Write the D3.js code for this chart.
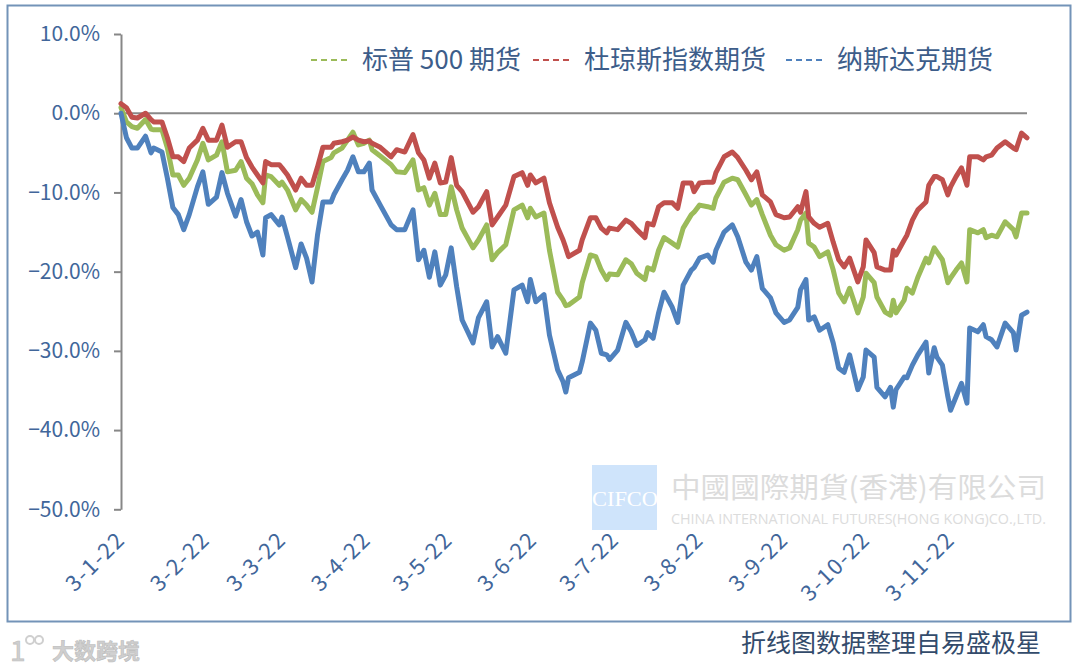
<!DOCTYPE html>
<html>
<head>
<meta charset="utf-8">
<script src="https://cdn.jsdelivr.net/npm/d3@7"></script>
<style>
  body { margin: 0; background: #fff; }
  svg { display: block; }
</style>
</head>
<body>
<div id="chart"></div>
<script>
var width = 1080, height = 669;

// dates of 2022 (month-day), shared by the three series
var dates = [
  "01-03","01-05","01-07","01-09","01-12","01-14","01-15","01-18","01-20","01-22","01-24","01-26","01-28","01-31",
  "02-02","02-04","02-07","02-09","02-11","02-14","02-16","02-18","02-20","02-22","02-24","02-25","02-27",
  "03-02","03-03","03-05","03-08","03-10","03-12","03-14","03-16","03-18","03-21","03-22","03-25","03-27","03-29","03-31",
  "04-02","04-04","04-05","04-08","04-12","04-14","04-17","04-20","04-22","04-24","04-26","04-28","04-30",
  "05-02","05-04","05-06","05-08","05-12","05-14","05-17","05-19","05-21","05-24","05-27","05-30",
  "06-01","06-02","06-04","06-07","06-09","06-12","06-14","06-15","06-16","06-20","06-21","06-24","06-26","06-28","06-30",
  "07-01","07-04","07-07","07-09","07-11","07-14","07-15","07-17","07-19","07-21","07-24","07-26","07-28","07-31",
  "08-01","08-03","08-06","08-08","08-09","08-12","08-15","08-17","08-20","08-22","08-24","08-26","08-29","08-31",
  "09-03","09-05","09-08","09-09","09-11","09-12","09-14","09-16","09-19","09-21","09-23","09-25","09-27","09-30",
  "10-02","10-03","10-06","10-07","10-10","10-12","10-13","10-14","10-17","10-18","10-20","10-22","10-25","10-26","10-28","10-29","10-31",
  "11-02","11-03","11-05","11-07","11-09","11-10","11-13","11-15","11-16","11-18","11-20","11-23","11-26","11-27","11-29",
  "12-01"
];

// 标普 500 期货 (%)
var spx = [
  0.7,-1.1,-1.7,-1.9,-0.8,-2.0,-2.1,-2.1,-4.4,-7.8,-7.8,-9.1,-8.2,-5.9,-3.8,-5.9,-5.3,-3.6,-7.4,-7.2,
  -6.1,-8.2,-8.9,-10.3,-11.3,-7.8,-8.0,-9.1,-8.7,-9.7,-12.2,-10.9,-11.6,-12.5,-9.4,-6.1,-5.6,-5.0,-4.4,
  -3.4,-2.4,-4.0,-3.8,-3.4,-4.6,-5.4,-6.5,-7.4,-7.5,-5.9,-9.7,-9.4,-11.6,-10.1,-12.8,-12.8,-9.3,-12.2,-14.5,
  -17.0,-16.0,-14.1,-18.5,-17.6,-16.6,-12.2,-11.6,-13.2,-12.0,-13.1,-12.6,-17.3,-22.6,-23.6,-24.3,
  -24.2,-23.2,-21.4,-17.9,-18.1,-19.8,-21.0,-20.3,-20.4,-18.5,-19.0,-20.2,-21.0,-19.5,-19.8,-17.3,-15.7,-16.4,-16.9,-14.5,
  -12.8,-12.5,-11.6,-11.8,-12.0,-10.7,-8.7,-8.2,-8.4,-10.3,-11.6,-10.9,-12.8,-15.4,-16.6,-17.3,-17.0,
  -14.7,-13.5,-12.6,-16.4,-16.9,-18.1,-17.5,-19.8,-22.7,-23.8,-22.1,-25.2,-23.2,-20.2,-21.4,-23.2,-25.1,-25.5,-23.6,-25.2,
  -23.6,-22.1,-22.7,-20.7,-18.3,-18.9,-17.0,-17.5,-18.5,-21.4,-20.8,-19.8,-18.9,-21.3,-14.7,-15.1,-14.7,-15.7,-15.4,-15.6,
  -13.7,-14.7,-15.6,-12.6,-12.6
];

// 杜琼斯指数期货 (%)
var dji = [
  1.2,0.7,-0.5,-0.6,0.0,-0.8,-1.1,-1.1,-3.1,-5.5,-5.5,-6.1,-4.4,-3.4,-1.9,-3.4,-3.4,-1.5,-4.3,-3.6,
  -3.6,-5.6,-6.8,-7.8,-8.8,-6.1,-6.5,-6.5,-6.9,-7.8,-9.7,-8.2,-9.1,-9.1,-6.8,-4.3,-4.3,-3.8,-3.6,
  -3.4,-3.0,-3.4,-3.6,-3.5,-3.8,-4.3,-5.5,-4.6,-4.9,-2.7,-5.0,-5.9,-8.2,-6.3,-8.8,-8.7,-5.6,-9.1,-9.9,
  -12.5,-11.8,-9.9,-14.1,-13.1,-11.6,-8.0,-7.5,-9.1,-7.8,-8.8,-8.2,-11.3,-14.4,-16.0,-17.0,
  -18.1,-17.3,-16.0,-13.2,-13.2,-14.5,-15.1,-14.5,-14.7,-13.5,-13.9,-14.7,-15.7,-13.9,-14.1,-11.8,-11.3,-11.3,-12.0,-8.8,
  -8.8,-9.9,-8.8,-8.7,-8.7,-7.5,-5.5,-4.9,-5.6,-7.2,-8.4,-7.4,-10.3,-11.2,-12.8,-13.2,-13.1,
  -11.8,-12.5,-9.9,-13.1,-13.9,-14.4,-13.9,-16.3,-18.5,-19.4,-18.3,-21.3,-19.4,-16.0,-17.6,-19.4,-19.8,-19.8,-17.3,-17.9,
  -16.0,-15.4,-13.5,-12.2,-11.2,-9.1,-8.0,-8.0,-8.4,-10.3,-9.3,-8.0,-6.9,-9.1,-5.5,-5.5,-5.9,-5.5,-5.3,-4.4,
  -3.6,-4.4,-4.6,-2.5,-3.1
];

// 纳斯达克期货 (%)
var ndx = [
  0.0,-3.1,-4.4,-4.4,-2.9,-5.0,-4.4,-4.9,-8.2,-11.9,-12.8,-14.7,-12.8,-9.3,-7.4,-11.5,-10.6,-7.5,-10.1,-13.0,
  -10.9,-13.7,-15.5,-15.0,-17.9,-13.2,-12.8,-14.1,-13.1,-15.6,-19.5,-16.5,-18.3,-21.3,-15.4,-11.2,-11.2,-10.3,-8.4,
  -7.2,-5.5,-7.4,-7.4,-6.3,-9.7,-11.6,-14.1,-14.7,-14.7,-12.2,-18.5,-17.3,-20.7,-17.5,-21.7,-20.4,-17.0,-21.9,-26.1,
  -29.0,-25.8,-23.8,-29.5,-28.2,-30.3,-22.3,-21.7,-23.8,-21.0,-23.8,-22.9,-28.0,-32.4,-33.9,-35.2,
  -33.4,-32.7,-31.4,-26.5,-27.4,-30.3,-30.5,-31.1,-29.9,-26.4,-27.6,-29.3,-28.6,-27.7,-28.4,-25.2,-22.6,-24.5,-26.4,-21.7,
  -19.8,-19.5,-18.3,-17.9,-18.8,-17.3,-15.0,-14.1,-15.6,-18.8,-19.8,-18.1,-22.1,-23.3,-25.2,-26.4,-26.1,
  -24.5,-22.3,-21.0,-26.1,-25.7,-27.4,-26.7,-29.0,-32.2,-32.7,-30.5,-34.9,-33.3,-29.9,-30.8,-34.6,-35.8,-34.6,-37.1,-34.9,
  -33.3,-33.4,-31.8,-30.5,-28.9,-32.8,-29.6,-30.8,-31.8,-35.8,-37.5,-35.8,-34.1,-36.6,-27.1,-27.6,-26.7,-28.2,-28.6,-29.5,
  -26.5,-27.7,-29.9,-25.5,-25.1
];

var seriesNames = ["标普 500 期货", "杜琼斯指数期货", "纳斯达克期货"];
var seriesColors = ["#9BBB59", "#C0504D", "#4F81BD"];
var yTicks = [10, 0, -10, -20, -30, -40, -50];
var xTicks = ["01-03","02-03","03-03","04-03","05-03","06-03","07-03","08-03","09-03","10-03","11-03"];

var font = "'Noto Sans CJK SC', 'Noto Sans', sans-serif";
var labelColor = "#41669a";
var parseDay = d3.timeParse("%Y-%m-%d");
function toDate(s) { return parseDay("2022-" + s); }

var svg = d3.select("#chart")
    .append("svg")
    .attr("width", width)
    .attr("height", height);

svg.append("rect")
    .attr("width", width)
    .attr("height", height)
    .attr("fill", "#fff");

// outer frame
svg.append("rect")
    .attr("x", 7.5)
    .attr("y", 5.5)
    .attr("width", 1063)
    .attr("height", 616)
    .attr("fill", "none")
    .attr("stroke", "#7393b8")
    .attr("stroke-width", 2);

var x = d3.scaleTime()
    .domain([toDate(dates[0]), toDate(dates[dates.length - 1])])
    .range([121, 1027]);

var y = d3.scaleLinear()
    .domain([-50, 10])
    .range([509.3, 34]);

//
// watermark (behind the chart)
//
var wm = svg.append("g");
wm.append("rect")
    .attr("x", 592)
    .attr("y", 465)
    .attr("width", 65)
    .attr("height", 65)
    .attr("fill", "#cfe4fb");
wm.append("text")
    .text("CIFCO")
    .attr("x", 592)
    .attr("y", 506)
    .attr("textLength", 66)
    .attr("lengthAdjust", "spacingAndGlyphs")
    .attr("font-family", "'Liberation Serif', serif")
    .attr("font-size", "21px")
    .attr("fill", "#fff");
wm.append("text")
    .text("中國國際期貨(香港)有限公司")
    .attr("x", 671)
    .attr("y", 498)
    .attr("textLength", 375)
    .attr("lengthAdjust", "spacingAndGlyphs")
    .attr("font-family", font)
    .attr("font-size", "28px")
    .attr("fill", "#dcdcdc");
wm.append("text")
    .text("CHINA INTERNATIONAL FUTURES(HONG KONG)CO.,LTD.")
    .attr("x", 671)
    .attr("y", 524)
    .attr("textLength", 375)
    .attr("lengthAdjust", "spacingAndGlyphs")
    .attr("font-family", "'Open Sans', sans-serif")
    .attr("font-size", "14px")
    .attr("fill", "#dcdcdc");

//
// y axis
//
var yAxis = d3.axisLeft(y)
    .tickValues(yTicks)
    .tickFormat(function(d){ return d3.format(".1f")(d) + "%"; })
    .tickSize(7)
    .tickSizeOuter(0)
    .tickPadding(14);

var gy = svg.append("g")
    .attr("transform", "translate(121,0)")
    .call(yAxis);
gy.selectAll("path, line")
    .attr("stroke", "#878787")
    .attr("stroke-width", 2);
gy.selectAll("text")
    .attr("font-family", font)
    .attr("font-size", "21px")
    .attr("fill", labelColor);

// zero line (category axis)
svg.append("line")
    .attr("x1", x.range()[0])
    .attr("x2", x.range()[1])
    .attr("y1", y(0))
    .attr("y2", y(0))
    .attr("stroke", "#898989")
    .attr("stroke-width", 2);

//
// x axis labels, rotated
//
var xAxis = d3.axisBottom(x)
    .tickValues(xTicks.map(toDate))
    .tickFormat(d3.timeFormat("%-d-%-m-%y"))
    .tickSize(0);

var gx = svg.append("g")
    .attr("transform", "translate(0,541)")
    .call(xAxis);
gx.select(".domain").remove();
gx.selectAll("text")
    .attr("x", 0)
    .attr("y", 0)
    .attr("dy", null)
    .attr("text-anchor", "end")
    .attr("transform", "translate(5,0) rotate(-45)")
    .attr("font-family", font)
    .attr("font-size", "22px")
    .attr("letter-spacing", "1.5px")
    .attr("fill", labelColor);

//
// lines
//
var allSeries = [spx, dji, ndx];
var line = d3.line()
    .x(function(d, i){ return x(toDate(dates[i])); })
    .y(function(d){ return y(d); });

svg.selectAll("path.series")
    .data(allSeries)
    .enter()
    .append("path")
    .attr("class", "series")
    .attr("d", line)
    .attr("fill", "none")
    .attr("stroke", function(d, i){ return seriesColors[i]; })
    .attr("stroke-width", 5)
    .attr("stroke-linejoin", "round")
    .attr("stroke-linecap", "round");

//
// legend
//
var legendX = [311, 533, 786];
var legend = svg.selectAll("g.legend")
    .data(seriesNames)
    .enter()
    .append("g")
    .attr("class", "legend")
    .attr("transform", function(d, i){ return "translate(" + legendX[i] + ",60)"; });
legend.append("line")
    .attr("x1", 0)
    .attr("x2", 36)
    .attr("stroke", function(d, i){ return seriesColors[i]; })
    .attr("stroke-width", 1.8)
    .attr("stroke-dasharray", "6,4");
legend.append("text")
    .text(function(d){ return d; })
    .attr("x", 51)
    .attr("y", 9)
    .attr("font-family", font)
    .attr("font-size", "26px")
    .attr("fill", "#3d5d8a");

//
// footer texts
//
svg.append("text")
    .text("折线图数据整理自易盛极星")
    .attr("x", 1041)
    .attr("y", 652)
    .attr("text-anchor", "end")
    .attr("font-family", font)
    .attr("font-size", "25px")
    .attr("fill", "#334b6b");

var logo = svg.append("g")
    .attr("fill", "#cfcfcf")
    .attr("stroke", "#bcbcbc")
    .attr("stroke-width", 0.6);
logo.append("text")
    .text("1")
    .attr("x", 10)
    .attr("y", 661)
    .attr("font-family", font)
    .attr("font-size", "28px");
logo.append("circle").attr("cx", 30).attr("cy", 640).attr("r", 4).attr("fill", "none").attr("stroke", "#cfcfcf").attr("stroke-width", 2);
logo.append("circle").attr("cx", 39).attr("cy", 640).attr("r", 4).attr("fill", "none").attr("stroke", "#cfcfcf").attr("stroke-width", 2);
logo.append("text")
    .text("大数跨境")
    .attr("x", 52)
    .attr("y", 659)
    .attr("font-family", font)
    .attr("font-weight", "bold")
    .attr("font-size", "22px");
</script>
</body>
</html>
